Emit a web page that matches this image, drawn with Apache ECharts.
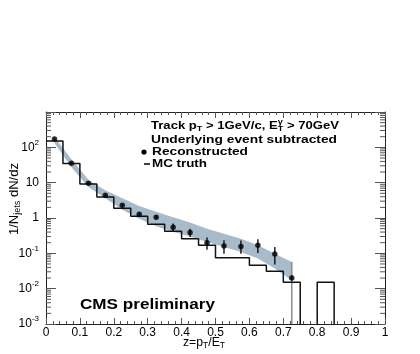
<!DOCTYPE html>
<html>
<head>
<meta charset="utf-8">
<script src="https://cdn.jsdelivr.net/npm/echarts@6/dist/echarts.min.js"></script>
<style>
  html, body { margin: 0; padding: 0; background: #fff; }
  #chart { width: 420px; height: 354px; }
</style>
</head>
<body>
<div id="chart"></div>
<script>
// MC truth histogram, bins of 0.05 from 0 to 1
const binEdges = [0, 0.05, 0.1, 0.15, 0.2, 0.25, 0.3, 0.35, 0.4, 0.45, 0.5, 0.55, 0.6, 0.65, 0.7, 0.75, 0.8, 0.85, 0.9, 0.95, 1.0]
const mcTruth = [150, 35, 9.1, 3.9, 1.9, 1.12, 0.67, 0.42, 0.26, 0.169, 0.075, 0.075, 0.046, 0.031, 0.0153, 0, 0.0153, 0, 0, 0]

// reconstructed points (bin centres) with error bar ends
const recoZ = [0.025, 0.075, 0.125, 0.175, 0.225, 0.275, 0.325, 0.375, 0.425, 0.475, 0.525, 0.575, 0.625, 0.675, 0.725]
const recoVal = [171, 35.7, 9.7, 4.4, 2.3, 1.28, 1.05, 0.55, 0.39, 0.2, 0.161, 0.155, 0.169, 0.096, 0.02]
const recoHi = [180, 37.5, 10.3, 4.7, 2.5, 1.42, 1.2, 0.7, 0.5, 0.279, 0.234, 0.23, 0.25, 0.151, 0.024]
const recoLo = [162, 34, 9.1, 4.1, 2.1, 1.15, 0.9, 0.42, 0.29, 0.127, 0.098, 0.098, 0.102, 0.048, 0.017]

// systematic band around the reconstructed points
const bandHi = [195, 46, 12, 6.1, 3.6, 2.2, 1.5, 1.05, 0.74, 0.5, 0.36, 0.26, 0.169, 0.098, 0.057]
const bandLo = [132, 27.5, 7.5, 3.6, 1.7, 0.95, 0.58, 0.41, 0.3, 0.21, 0.15, 0.109, 0.071, 0.037, 0.017]

const xTicks = [0, 0.1, 0.2, 0.3, 0.4, 0.5, 0.6, 0.7, 0.8, 0.9, 1]
const yDecades = [-3, -2, -1, 0, 1, 2]

const FLOOR = 1e-6 // empty bins drop below the axis and get clipped
const FONT = '"Liberation Sans", Arial, sans-serif'

// histogram as step points
const histData = binEdges.map((e, i) => [e, i < mcTruth.length ? (mcTruth[i] || FLOOR) : FLOOR])

// log minor ticks 2..9 per decade
const minorVals = []
yDecades.forEach((d) => {
  for (let k = 2; k <= 9; k++) minorVals.push([0.5, k * Math.pow(10, d)])
})

const measureCtx = document.createElement('canvas').getContext('2d')
function textWidth(str, font) {
  measureCtx.font = font
  return measureCtx.measureText(str).width
}
function fontOf(p) {
  return (p.bold ? 'bold ' : '') + p.size + 'px ' + FONT
}
// row of text pieces (sub/superscripts), stretched to a given width
function textRow(parts, opt) {
  let cx = 0
  const children = []
  parts.forEach((p) => {
    const font = fontOf(p)
    children.push({
      type: 'text',
      x: cx,
      y: p.dy || 0,
      style: { text: p.t, font: font, fill: '#000', verticalAlign: 'middle', textVerticalAlign: 'middle' },
    })
    if (!p.stack) cx += textWidth(p.t, font)
  })
  return {
    type: 'group',
    x: opt.x,
    y: opt.y,
    rotation: opt.rotation || 0,
    scaleX: opt.width ? opt.width / cx : 1,
    silent: true,
    children: children,
  }
}

const B = 11.5
const graphics = [
  textRow([
    { t: 'Track p', size: B, bold: true },
    { t: 'T', size: 8, bold: true, dy: 3 },
    { t: ' > 1GeV/c, E', size: B, bold: true },
    { t: 'γ', size: 8, bold: true, dy: -4, stack: true },
    { t: 'T', size: 8, bold: true, dy: 3 },
    { t: ' > 70GeV', size: B, bold: true },
  ], { x: 151, y: 126, width: 188 }),
  textRow([{ t: 'Underlying event subtracted', size: B, bold: true }], { x: 151, y: 140, width: 186 }),
  textRow([{ t: 'Reconstructed', size: B, bold: true }], { x: 152, y: 152, width: 96 }),
  textRow([{ t: 'MC truth', size: B, bold: true }], { x: 152, y: 164, width: 55 }),
  { type: 'circle', shape: { cx: 144, cy: 152, r: 2.6 }, style: { fill: '#000' }, silent: true },
  { type: 'line', shape: { x1: 144, y1: 164, x2: 150, y2: 164 }, style: { stroke: '#000', lineWidth: 1.5 }, silent: true },
  textRow([{ t: 'CMS preliminary', size: 14, bold: true }], { x: 80, y: 305, width: 135 }),
  textRow([
    { t: 'z=p', size: 13 },
    { t: 'T', size: 9, dy: 4 },
    { t: '/E', size: 13 },
    { t: 'T', size: 9, dy: 4 },
  ], { x: 183, y: 342, width: 42 }),
  textRow([
    { t: '1/N', size: 13 },
    { t: 'jets', size: 9, dy: 4 },
    { t: ' dN/dz', size: 13 },
  ], { x: 14, y: 235, width: 72, rotation: Math.PI / 2 }),
]

const chart = echarts.init(document.getElementById('chart'), null, { renderer: 'canvas' })

const axisLineStyle = { color: '#222', width: 1 }
const tickStyle = { color: '#555', width: 1 }

function xAxisOf(pos) {
  return {
    type: 'value',
    position: pos,
    min: 0,
    max: 1,
    interval: 0.1,
    axisLine: { show: true, onZero: false, lineStyle: axisLineStyle },
    axisTick: { show: true, inside: true, length: 6, lineStyle: tickStyle },
    minorTick: { show: true, splitNumber: 5, length: 3, lineStyle: tickStyle },
    splitLine: { show: false },
    axisLabel: {
      show: pos === 'bottom',
      margin: 3,
      color: '#000',
      fontSize: 12,
      fontFamily: FONT,
      formatter: (v) => String(xTicks.find((t) => Math.abs(t - v) < 1e-6)),
    },
  }
}

function yAxisOf(pos) {
  return {
    type: 'log',
    logBase: 10,
    position: pos,
    min: 1e-3,
    max: 1e3,
    axisLine: { show: true, onZero: false, lineStyle: axisLineStyle },
    axisTick: { show: true, inside: true, length: 10, lineStyle: tickStyle },
    splitLine: { show: false },
    axisLabel: {
      show: pos === 'left',
      margin: 7,
      color: '#000',
      fontFamily: FONT,
      formatter: (v) => {
        const e = Math.round(Math.log10(v))
        if (e === 3) return ''
        if (e === 0) return '{b|1}'
        if (e === 1) return '{b|10}'
        return '{b|10}{s|' + e + '}'
      },
      rich: {
        b: { fontSize: 12, lineHeight: 18, fontFamily: FONT, color: '#000' },
        s: { fontSize: 8, lineHeight: 10, verticalAlign: 'top', fontFamily: FONT, color: '#000' },
      },
    },
  }
}

const option = {
  animation: false,
  backgroundColor: '#fff',
  grid: { left: 46, right: 35, top: 112, bottom: 30, containLabel: false },
  xAxis: [xAxisOf('bottom'), xAxisOf('top')],
  yAxis: [yAxisOf('left'), yAxisOf('right')],
  graphic: graphics,
  series: [
    {
      // grey band
      type: 'custom',
      silent: true,
      z: 1,
      data: [[0.5, 1]],
      renderItem: (params, api) => {
        const up = recoZ.map((z, i) => api.coord([z, bandHi[i]]))
        const down = recoZ.map((z, i) => api.coord([z, bandLo[i]])).reverse()
        const last = recoZ.length - 1
        const top = api.coord([recoZ[last], bandHi[last]])
        const cs = params.coordSys
        return {
          type: 'group',
          children: [
            { type: 'polygon', shape: { points: up.concat(down) }, style: { fill: '#a7bbca' } },
            {
              type: 'line',
              shape: { x1: top[0], y1: top[1], x2: top[0], y2: cs.y + cs.height },
              style: { stroke: '#8d8d8d', lineWidth: 1.5 },
            },
          ],
        }
      },
    },
    {
      // minor log ticks, left and right
      type: 'custom',
      silent: true,
      z: 2,
      data: minorVals,
      renderItem: (params, api) => {
        const y = api.coord([0.5, api.value(1)])[1]
        const cs = params.coordSys
        return {
          type: 'group',
          children: [
            { type: 'line', shape: { x1: cs.x, y1: y, x2: cs.x + 5, y2: y }, style: { stroke: '#555', lineWidth: 1 } },
            { type: 'line', shape: { x1: cs.x + cs.width - 5, y1: y, x2: cs.x + cs.width, y2: y }, style: { stroke: '#555', lineWidth: 1 } },
          ],
        }
      },
    },
    {
      name: 'MC truth',
      type: 'line',
      step: 'end',
      z: 3,
      clip: true,
      symbol: 'none',
      data: histData,
      lineStyle: { color: '#111', width: 1.5 },
    },
    {
      // error bars
      type: 'custom',
      silent: true,
      z: 4,
      data: recoZ.map((z, i) => [z, recoLo[i], recoHi[i]]),
      renderItem: (params, api) => {
        const lo = api.coord([api.value(0), api.value(1)])
        const hi = api.coord([api.value(0), api.value(2)])
        return { type: 'line', shape: { x1: lo[0], y1: lo[1], x2: hi[0], y2: hi[1] }, style: { stroke: '#000', lineWidth: 1.3 } }
      },
    },
    {
      name: 'Reconstructed',
      type: 'scatter',
      z: 5,
      symbol: 'circle',
      symbolSize: 5.5,
      data: recoZ.map((z, i) => [z, recoVal[i]]),
      itemStyle: { color: '#000' },
    },
  ],
}

chart.setOption(option)
</script>
</body>
</html>
